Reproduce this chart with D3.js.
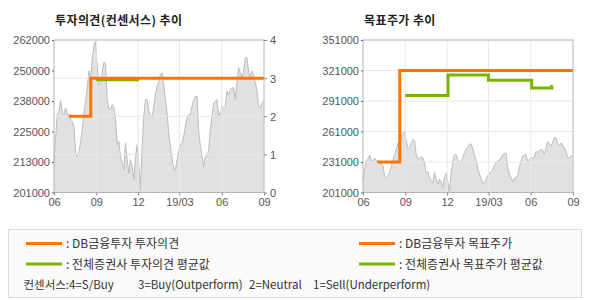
<!DOCTYPE html>
<html>
<head>
<meta charset="utf-8">
<script src="https://cdn.jsdelivr.net/npm/d3@7"></script>
<style>
  body { margin: 0; background: #fff; }
  svg { display: block; }
  .tick text { font-family: "Liberation Sans", Arial, sans-serif; font-size: 11px; fill: #555; }
  .ttl { font-family: "Noto Sans CJK KR", sans-serif; font-size: 12px; font-weight: bold; fill: #222; letter-spacing: 0.4px; }
  .lg { font-family: "Noto Sans CJK KR", sans-serif; font-size: 12px; fill: #333; }
  .note { font-size: 11.5px; }
</style>
</head>
<body>
<script>
// time axis
var dateStart = new Date(2018, 5, 1),
    dateEnd = new Date(2019, 8, 1);
var xTicks = [new Date(2018, 5, 1), new Date(2018, 8, 1), new Date(2018, 11, 1),
              new Date(2019, 2, 1), new Date(2019, 5, 1), new Date(2019, 8, 1)];
var xTickLabels = ["06", "09", "12", "19/03", "06", "09"];

// daily close, sampled evenly from 2018-06-01 to 2019-08-31
var priceFirst = new Date(2018, 5, 1),
    priceLast = new Date(2019, 7, 31);
var priceValues = [
  212800, 223500, 232200, 233500, 237800, 232800, 232200, 234800, 232200, 232200,
  230400, 229500, 227500, 216800, 215400, 217500, 220800, 226100, 232800, 237500,
  242900, 249600, 246900, 254200, 259600, 261600, 251600, 244200, 244900, 248900,
  253200, 252200, 238200, 234200, 234200, 236200, 234800, 230200, 220100, 221500,
  215400, 212800, 210100, 220800, 214100, 208800, 214100, 211400, 206100, 215400,
  220100, 211400, 202100, 219500, 231500, 238200, 238200, 233500, 231500, 231500,
  235500, 240200, 243500, 245500, 248200, 248900, 244200, 238200, 232800, 224800,
  219500, 214800, 210100, 210100, 214100, 217500, 220100, 220800, 223500, 227500,
  230800, 232200, 232200, 235500, 238200, 239500, 239500, 225500, 219500, 215400,
  211400, 215400, 215400, 218100, 226100, 231500, 236800, 237500, 238200, 231500,
  232800, 235500, 234800, 235500, 241500, 240200, 242200, 242900, 242900, 238200,
  244900, 250900, 248900, 246900, 249600, 254900, 254900, 249600, 246900, 249600,
  248200, 244900, 242200, 235500, 234800, 236800, 237500
];

// investment opinion (4=S/Buy 3=Buy 2=Neutral 1=Sell)
var opinionDB = [[new Date(2018, 6, 3), 2], [new Date(2018, 7, 20), 3], [new Date(2019, 8, 1), 3]];
var opinionAvg = [[new Date(2018, 8, 1), 2.96], [new Date(2018, 11, 3), 2.96]];

// target price
var targetDB = [[new Date(2018, 6, 2), 231000], [new Date(2018, 7, 20), 321000], [new Date(2019, 8, 1), 321000]];
var targetAvg = [[new Date(2018, 8, 1), 296500], [new Date(2018, 11, 3), 316500], [new Date(2019, 2, 1), 311500],
                 [new Date(2019, 5, 3), 303700], [new Date(2019, 6, 17), 305500], [new Date(2019, 6, 19), 305500]];

// axis ticks
var leftTicksA = [201000, 213200, 225400, 237600, 249800, 262000];
var leftLabelsA = ["201000", "213000", "225000", "238000", "250000", "262000"];
var rightTicksA = [0, 1, 2, 3, 4];
var leftTicksB = [201000, 231000, 261000, 291000, 321000, 351000];

var orange = "#ff7300", green = "#78b400";

var legendItems = [
  {label: ": DB금융투자 투자의견", color: orange, col: 0, row: 0},
  {label: ": 전체증권사 투자의견 평균값", color: green, col: 0, row: 1},
  {label: ": DB금융투자 목표주가", color: orange, col: 1, row: 0},
  {label: ": 전체증권사 목표주가 평균값", color: green, col: 1, row: 1}
];
var consensusNote = ["컨센서스:4=S/Buy", "3=Buy(Outperform)", "2=Neutral", "1=Sell(Underperform)"];

var svg = d3.select("body").append("svg")
    .attr("width", 590)
    .attr("height", 300);

// spread the sampled closes evenly over their date range
var priceIdx = d3.scaleLinear().domain([0, priceValues.length - 1]).range([+priceFirst, +priceLast]);
var prices = priceValues.map(function(v, i){ return [new Date(priceIdx(i)), v]; });

function drawPanel(left, title, yDomain, yTicks, yLabels, rightAxis, lines){
    var top = 40, bottom = 192.5, width = 210;
    var g = svg.append("g");

    var x = d3.scaleTime().domain([dateStart, dateEnd]).range([left, left + width]);
    var y = d3.scaleLinear().domain(yDomain).range([bottom, top]);

    g.append("text").attr("class", "ttl")
        .attr("x", left + 1).attr("y", 25).text(title);

    // price area
    var area = d3.area()
        .x(function(d){ return x(d[0]); })
        .y0(bottom)
        .y1(function(d){ return y(d[1]); });
    g.append("path").datum(prices).attr("d", area).attr("fill", "#e1e1e1");
    g.append("path").datum(prices)
        .attr("d", d3.line().x(function(d){ return x(d[0]); }).y(function(d){ return y(d[1]); }))
        .attr("fill", "none").attr("stroke", "#bcbcbc").attr("stroke-width", 1);

    // grid (drawn over the price area)
    var gridScale = rightAxis ? rightAxis.scale.range([bottom, top]) : y;
    var gridVals = rightAxis ? rightAxis.ticks : yTicks;
    g.selectAll(".hg").data(gridVals.slice(1, -1)).enter().append("line")
        .attr("x1", left).attr("x2", left + width)
        .attr("y1", function(d){ return gridScale(d); })
        .attr("y2", function(d){ return gridScale(d); })
        .attr("stroke", "#e8e8e8");
    g.selectAll(".vg").data(xTicks.slice(1, -1)).enter().append("line")
        .attr("y1", top).attr("y2", bottom)
        .attr("x1", function(d){ return x(d); })
        .attr("x2", function(d){ return x(d); })
        .attr("stroke", "#e8e8e8");

    // step lines
    lines.forEach(function(l){
        var ls = l.scale ? l.scale : y;
        g.append("path").datum(l.data)
            .attr("d", d3.line().curve(d3.curveStepAfter)
                .x(function(d){ return x(d[0]); })
                .y(function(d){ return ls(d[1]); }))
            .attr("fill", "none")
            .attr("stroke", l.color)
            .attr("stroke-width", 3);
    });

    // frame
    g.append("rect")
        .attr("x", left).attr("y", top)
        .attr("width", width).attr("height", bottom - top)
        .attr("fill", "none").attr("stroke", "#b4b4b4");

    // axes
    var xAxis = d3.axisBottom(x).tickValues(xTicks)
        .tickSize(3).tickPadding(3)
        .tickFormat(function(d, i){ return xTickLabels[i]; });
    var ax = g.append("g").attr("transform", "translate(0," + bottom + ")").call(xAxis);
    ax.select(".domain").remove();
    ax.selectAll("line").attr("stroke", "#888");

    var yAxis = d3.axisLeft(y).tickValues(yTicks)
        .tickSize(2).tickPadding(2)
        .tickFormat(function(d, i){ return yLabels[i]; });
    var ay = g.append("g").attr("transform", "translate(" + left + ",0)").call(yAxis);
    ay.select(".domain").remove();
    ay.selectAll("line").attr("stroke", "#666");
    ay.selectAll("text").attr("dy", "0.36em");

    if (rightAxis){
        var rAxis = d3.axisRight(rightAxis.scale).tickValues(rightAxis.ticks)
            .tickSize(3).tickPadding(3).tickFormat(d3.format("d"));
        var ar = g.append("g").attr("transform", "translate(" + (left + width) + ",0)").call(rAxis);
        ar.select(".domain").remove();
        ar.selectAll("line").attr("stroke", "#888");
        ar.selectAll("text").attr("dy", "0.36em");
    }
}

var opinionScale = d3.scaleLinear().domain([0, 4]);

drawPanel(54, "투자의견(컨센서스) 추이", [201000, 262000], leftTicksA, leftLabelsA,
    {scale: opinionScale, ticks: rightTicksA},
    [{data: opinionAvg, color: green, scale: opinionScale},
     {data: opinionDB, color: orange, scale: opinionScale}]);

drawPanel(363, "목표주가 추이", [201000, 351000], leftTicksB,
    leftTicksB.map(function(d){ return String(d); }), null,
    [{data: targetAvg, color: green},
     {data: targetDB, color: orange}]);

// legend
var lg = svg.append("g");
lg.append("rect")
    .attr("x", 8.5).attr("y", 229.5)
    .attr("width", 573).attr("height", 68)
    .attr("fill", "#fafafa").attr("stroke", "#dcdcdc");

var colX = [26, 359], rowY = [243.5, 264];
var items = lg.selectAll(".li").data(legendItems).enter().append("g");
items.append("line")
    .attr("x1", function(d){ return colX[d.col]; })
    .attr("x2", function(d){ return colX[d.col] + 36; })
    .attr("y1", function(d){ return rowY[d.row]; })
    .attr("y2", function(d){ return rowY[d.row]; })
    .attr("stroke", function(d){ return d.color; })
    .attr("stroke-width", 3);
items.append("text").attr("class", "lg")
    .attr("x", function(d){ return colX[d.col] + 40; })
    .attr("y", function(d){ return rowY[d.row] + 4.5; })
    .text(function(d){ return d.label; });

var noteX = [23.5, 138, 249, 313];
lg.append("text").attr("class", "lg note").attr("y", 289)
    .selectAll("tspan").data(consensusNote).enter().append("tspan")
    .attr("x", function(d, i){ return noteX[i]; })
    .text(function(d){ return d; });
</script>
</body>
</html>
